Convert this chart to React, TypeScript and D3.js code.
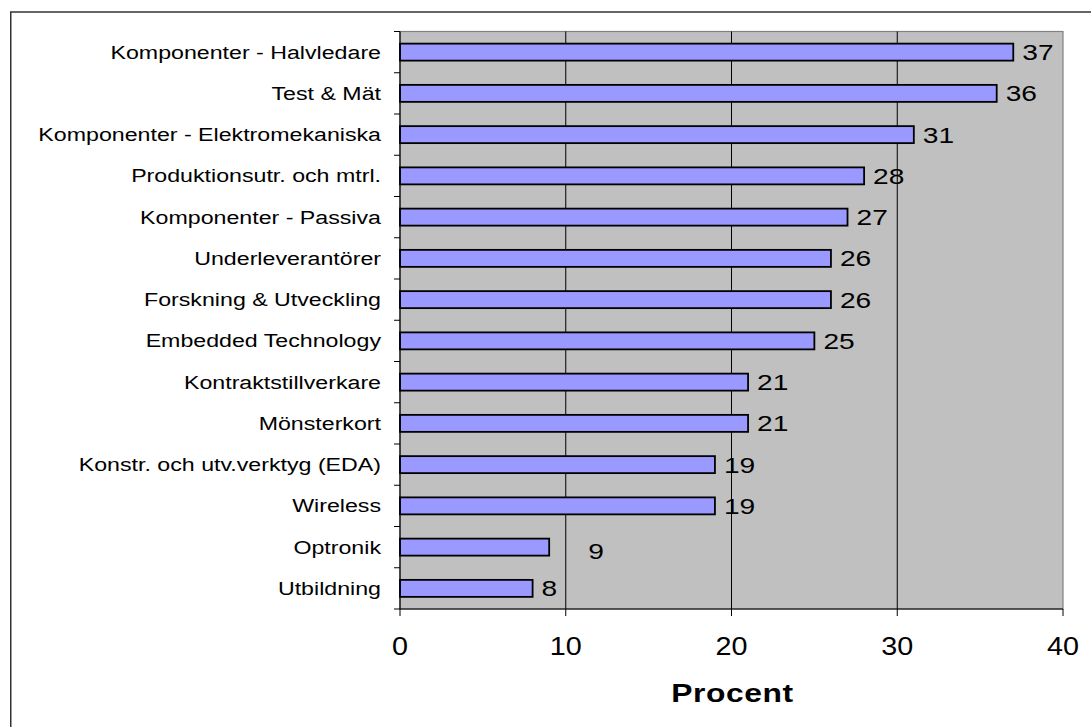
import React from "react";
import * as d3 from "d3";

const categories = [
  "Komponenter - Halvledare",
  "Test & Mät",
  "Komponenter - Elektromekaniska",
  "Produktionsutr. och mtrl.",
  "Komponenter - Passiva",
  "Underleverantörer",
  "Forskning & Utveckling",
  "Embedded Technology",
  "Kontraktstillverkare",
  "Mönsterkort",
  "Konstr. och utv.verktyg (EDA)",
  "Wireless",
  "Optronik",
  "Utbildning",
];
const values = [37, 36, 31, 28, 27, 26, 26, 25, 21, 21, 19, 19, 9, 8];
const xTicks = [0, 10, 20, 30, 40];
const xTitle = "Procent";

// layout / style (label nudge for the displaced data label in the original)
const labelNudge: Record<string, { dx: number; dy: number }> = {
  Optronik: { dx: 30, dy: 4 },
};

const W = 1091;
const H = 727;
const plot = { left: 400, right: 1063, top: 31.5, bottom: 609 };
const font = "Arial, 'Liberation Sans', sans-serif";

export default function App() {
  const x = d3.scaleLinear().domain([0, 40]).range([plot.left, plot.right]);
  const y = d3
    .scaleBand<string>()
    .domain(categories)
    .range([plot.top, plot.bottom])
    .paddingInner(0.588)
    .paddingOuter(0.294);
  const step = y.step();
  const bw = y.bandwidth();
  const boundaries = d3.range(categories.length + 1).map((i) => plot.top + i * step);

  return (
    <svg
      width={W}
      height={H}
      style={{ position: "absolute", left: 0, top: 0, background: "#fff" }}
    >
      <rect x={0} y={0} width={W} height={H} fill="#fff" />
      {/* outer frame */}
      <rect x={10.75} y={12} width={W + 10} height={H + 10} fill="none" stroke="#333" strokeWidth={1.5} />
      {/* plot background */}
      <rect
        x={plot.left}
        y={plot.top}
        width={plot.right - plot.left}
        height={plot.bottom - plot.top}
        fill="#C0C0C0"
        stroke="#808080"
        strokeWidth={1.2}
      />
      {/* gridlines */}
      {xTicks.slice(1, -1).map((t) => (
        <line key={"g" + t} x1={x(t)} x2={x(t)} y1={plot.top} y2={plot.bottom} stroke="#000" strokeWidth={1} />
      ))}
      {/* bars */}
      {categories.map((c, i) => (
        <rect
          key={"b" + c}
          x={x(0)}
          y={y(c)!}
          width={x(values[i]) - x(0)}
          height={bw}
          fill="#9999FF"
          stroke="#000"
          strokeWidth={1.8}
        />
      ))}
      {/* value labels */}
      {categories.map((c, i) => {
        const n = labelNudge[c] || { dx: 0, dy: 0 };
        const tx = x(values[i]) + 9 + n.dx;
        const ty = y(c)! + bw / 2 + 8 + n.dy;
        return (
          <text
            key={"v" + c}
            transform={`translate(${tx},${ty}) scale(1.25,1)`}
            fontFamily={font}
            fontSize={22.5}
            fill="#000"
          >
            {values[i]}
          </text>
        );
      })}
      {/* left axis */}
      <line x1={plot.left} x2={plot.left} y1={plot.top} y2={plot.bottom} stroke="#000" strokeWidth={1.2} />
      {boundaries.map((b, i) => (
        <line key={"lt" + i} x1={plot.left - 6} x2={plot.left} y1={b} y2={b} stroke="#000" strokeWidth={1} />
      ))}
      {categories.map((c) => (
        <text
          key={"c" + c}
          transform={`translate(381,${y(c)! + bw / 2 + 6.5}) scale(1.22,1)`}
          textAnchor="end"
          fontFamily={font}
          fontSize={19}
          fill="#000"
        >
          {c}
        </text>
      ))}
      {/* bottom axis */}
      <line x1={plot.left} x2={plot.right} y1={plot.bottom} y2={plot.bottom} stroke="#000" strokeWidth={1.2} />
      {xTicks.map((t) => (
        <g key={"xt" + t}>
          <line x1={x(t)} x2={x(t)} y1={plot.bottom} y2={plot.bottom + 7} stroke="#000" strokeWidth={1} />
          <text
            transform={`translate(${x(t)},655) scale(1.15,1)`}
            textAnchor="middle"
            fontFamily={font}
            fontSize={25}
            fill="#000"
          >
            {t}
          </text>
        </g>
      ))}
      <text
        transform={`translate(${(plot.left + plot.right) / 2 + 1},702) scale(1.2,1)`}
        textAnchor="middle"
        fontFamily={font}
        fontWeight="bold"
        fontSize={26.5}
        letterSpacing={0.5}
        fill="#000"
      >
        {xTitle}
      </text>
    </svg>
  );
}
